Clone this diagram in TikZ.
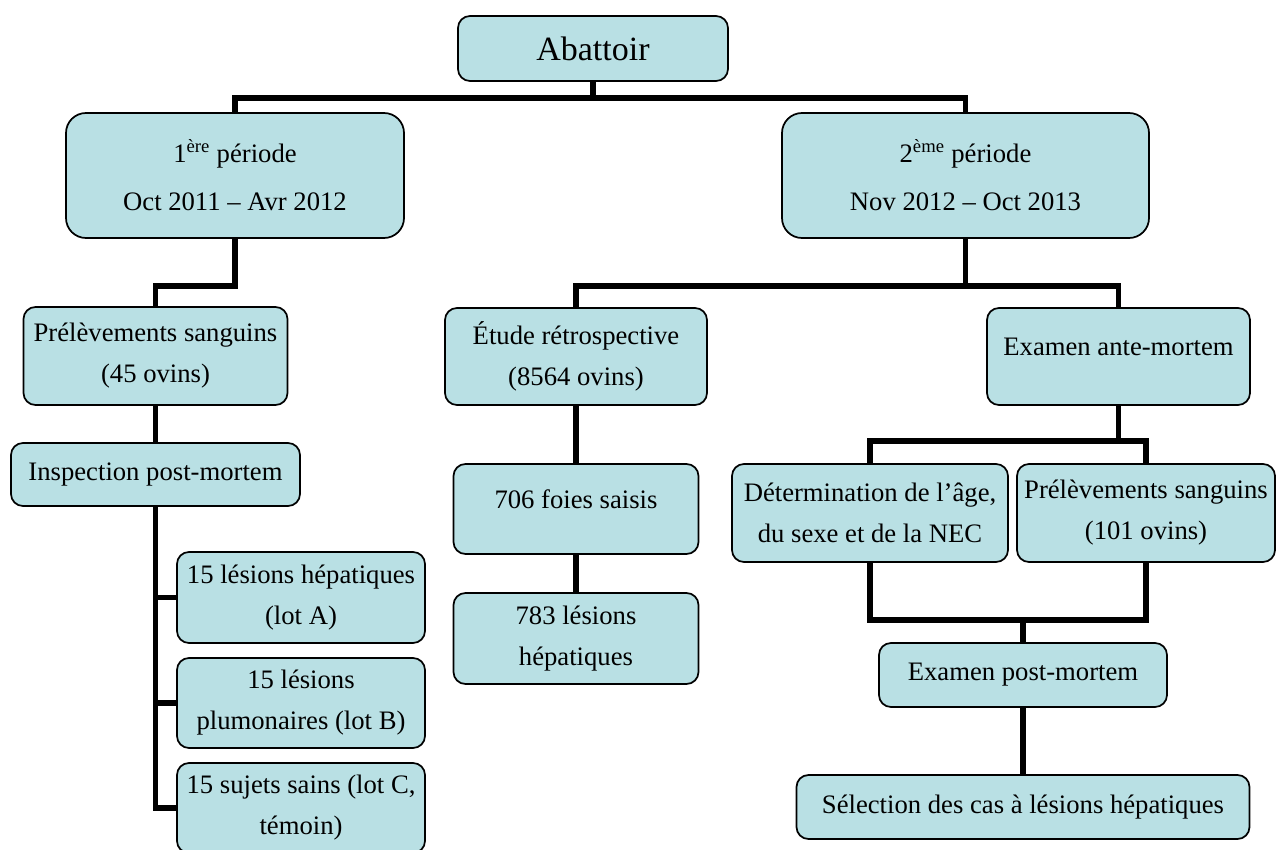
\documentclass[tikz,border=0pt]{standalone}
\usepackage{fontspec}
\setmainfont{Liberation Serif}
\usetikzlibrary{calc}
\definecolor{boxfill}{RGB}{185,224,228}

\begin{document}
\begin{tikzpicture}[x=0.75pt,y=-0.75pt,
	box/.style={rectangle, rounded corners=9pt, draw=black, line width=1.3pt, fill=boxfill, inner sep=0, align=center, font=\fontsize{20}{30.75}\selectfont},
	per/.style={box, rounded corners=15pt, font=\fontsize{20}{36}\selectfont},
	upper/.style={text depth=15pt},
	sz/.style 2 args={minimum width=#1*0.75pt, minimum height=#2*0.75pt},
	link/.style={line width=4pt, black}]
		\useasboundingbox (0,0) rectangle (1277,849);
		\clip (0,0) rectangle (1277,849);

		%abattoir
		\node[box, sz={270}{65}, font=\fontsize{25.5}{30}\selectfont] (abat) at (593,48.5) {Abattoir};
		%periods
		\node[per, sz={338}{125}] (per1) at (235,175.5) {1\textsuperscript{ère} période\\Oct 2011 – Avr 2012};
		\node[per, sz={367}{125}] (per2) at (965.5,175.5) {2\textsuperscript{ème} période\\Nov 2012 – Oct 2013};

		%first period
		\node[box, sz={264}{98}] (prel1) at (155.5,356) {Prélèvements sanguins\\(45 ovins)};
		\node[box, sz={289}{63}] (insp) at (155.5,474.5) {Inspection post-mortem};
		\node[box, sz={248}{91}] (lot1) at (301,597.5) {15 lésions hépatiques\\(lot A)};
		\node[box, sz={248}{90}] (lot2) at (301,703) {15 lésions\\plumonaires (lot B)};
		\node[box, sz={248}{90}] (lot3) at (301,808) {15 sujets sains (lot C,\\témoin)};

		%second period
		\node[box, sz={262}{97}] (etude) at (576,356.5) {Étude rétrospective\\(8564 ovins)};
		\node[box, upper, sz={245}{90}] (foies) at (576,509) {706 foies saisis};
		\node[box, sz={245}{91}] (lesh) at (576,638.5) {783 lésions\\hépatiques};
		\node[box, upper, sz={263}{97}] (ante) at (1118.5,356.5) {Examen ante-mortem};
		\node[box, sz={276}{98}] (deter) at (870,513) {Détermination de l’âge,\\du sexe et de la NEC};
		\node[box, sz={258}{98}] (prel2) at (1146,513) {Prélèvements sanguins\\(101 ovins)};
		\node[box, sz={288}{64}] (postm) at (1023,675) {Examen post-mortem};
		\node[box, sz={453}{64}] (selec) at (1023,807) {Sélection des cas à lésions hépatiques};

		%links
		\draw[link] (abat.south) -- ++(0,16) coordinate (bus0);
		\draw[link] (per1.north) |- (bus0) -| (per2.north);
		\draw[link] (per1.south) -- ++(0,47) -| (prel1.north);
		\draw[link] (prel1.south) -- (insp.north);
		\draw[link] (insp.south) |- (lot3.west);
		\foreach \i in {1,2} {
			\draw[link] (lot\i.west) -- (lot\i.west -| insp.south);
		}
		\draw[link] (per2.south) -- ++(0,47) coordinate (bus1);
		\draw[link] (etude.north) |- (bus1) -| (ante.north);
		\draw[link] (etude.south) -- (foies.north);
		\draw[link] (foies.south) -- (lesh.north);
		\draw[link] (ante.south) -- ++(0,35) coordinate (bus2);
		\draw[link] (deter.north) |- (bus2) -| (prel2.north);
		\draw[link] (deter.south) -- ++(0,57) coordinate (bus3) -| (prel2.south);
		\draw[link] (postm.north) -- (postm.north |- bus3);
		\draw[link] (postm.south) -- (selec.north);
	\end{tikzpicture}
\end{document}
